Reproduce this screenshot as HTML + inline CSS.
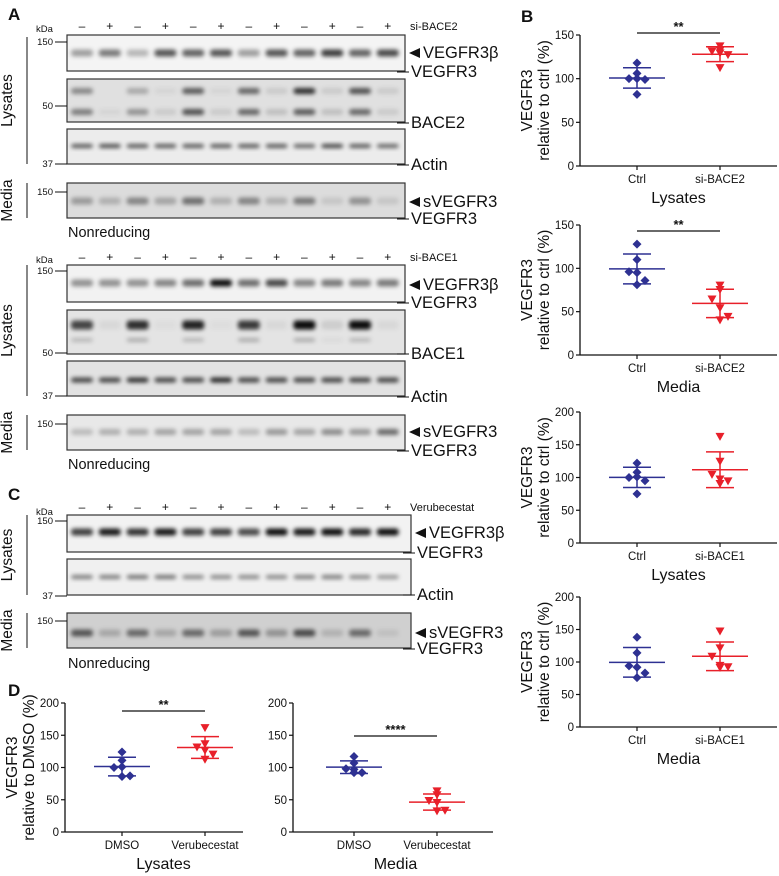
<!DOCTYPE html>
<html><head><meta charset="utf-8">
<style>
html,body{margin:0;padding:0;background:#fff;}
svg{display:block;font-family:"Liberation Sans",Arial,sans-serif;}
</style></head>
<body>
<svg id="fig" width="779" height="876" viewBox="0 0 779 876" xmlns="http://www.w3.org/2000/svg">
<defs>
<filter id="blur" x="-50%" y="-100%" width="200%" height="300%"><feGaussianBlur stdDeviation="2"/></filter>
</defs>
</svg>
<script>
// ---------- Chart data ----------
const bCategories1 = ["Ctrl","si-BACE2"];
const bLysCtrl = [118,106,100,100,99,82];
const bLysSi2 = [137,132,131,129,127,112];
const bMedCtrl = [128,110,96,95,86,81];
const bMedSi2 = [80,75,64,54,44,40];
const bCategories2 = ["Ctrl","si-BACE1"];
const bLys1Ctrl = [122,108,100,101,95,75];
const bLys1Si1 = [162,124,104,97,94,90];
const bMed1Ctrl = [138,114,94,92,83,76];
const bMed1Si1 = [147,121,108,94,92,91];
const dCategories = ["DMSO","Verubecestat"];
const dLysDMSO = [124,111,100,101,87,86];
const dLysVer = [161,136,131,126,120,112];
const dMedDMSO = [117,107,98,97,92,92];
const dMedVer = [63,57,48,45,33,32];
const ticks150 = [0,50,100,150];
const ticks200 = [0,50,100,150,200];

const svg = document.getElementById('fig');
const NS = 'http://www.w3.org/2000/svg';
function mk(tag, attrs, parent){
  const e = document.createElementNS(NS, tag);
  for (const k in attrs) e.setAttribute(k, attrs[k]);
  (parent||svg).appendChild(e);
  return e;
}
function txt(x,y,s,size,opts,parent){
  opts = opts||{};
  const t = mk('text',{x:x,y:y,'font-size':size,fill:'#111','text-anchor':opts.anchor||'start'},parent);
  if (opts.weight) t.setAttribute('font-weight',opts.weight);
  if (opts.rot) t.setAttribute('transform','rotate(-90 '+x+' '+y+')');
  t.textContent = s;
  return t;
}

// ---------- Scatter charts ----------
function mean(a){return a.reduce((s,v)=>s+v,0)/a.length;}
function sd(a){const m=mean(a);return Math.sqrt(a.reduce((s,v)=>s+(v-m)*(v-m),0)/(a.length-1));}

function scatterChart(cfg){
  const g = mk('g',{});
  
  
  const ymax = cfg.ticks[cfg.ticks.length-1];
  const yS = v => cfg.y0 - (v/ymax)*(cfg.y0-cfg.yTop);
  const xS = i => cfg.xc[i];
  const ya = mk('line',{x1:cfg.ax,y1:cfg.yTop,x2:cfg.ax,y2:cfg.y0,stroke:'#111','stroke-width':1.3},g);
  
  
  const xa = mk('line',{x1:cfg.ax,y1:cfg.y0,x2:cfg.axEnd,y2:cfg.y0,stroke:'#111','stroke-width':1.3},g);
  
  
  cfg.ticks.forEach(t=>{
    mk('line',{x1:cfg.ax-4,y1:yS(t),x2:cfg.ax,y2:yS(t),stroke:'#111','stroke-width':1.2},g);
    const tl = txt(cfg.ax-6,yS(t)+4,String(t),11.5,{anchor:'end'},g);
    
    
  });
  cfg.cats.forEach((c,i)=>{
    mk('line',{x1:xS(i),y1:cfg.y0,x2:xS(i),y2:cfg.y0+4,stroke:'#111','stroke-width':1.2},g);
    const cl = txt(xS(i),cfg.y0+17,c,11.5,{anchor:'middle'},g);
    
    
  });
  const gl = txt((cfg.xc[0]+cfg.xc[1])/2,cfg.y0+37,cfg.group,16,{anchor:'middle'},g);
  
  
  if (cfg.title2){
    const midY = (cfg.yTop+cfg.y0)/2;
    const t1 = txt(cfg.titleX,midY,'VEGFR3',15.5,{anchor:'middle',rot:true},g);
    
    
    const t2 = txt(cfg.titleX+17,midY,cfg.title2,15.5,{anchor:'middle',rot:true},g);
    
    
  }
  const cols = ['#2e3192','#e8202a'];
  [cfg.s0,cfg.s1].forEach((data,i)=>{
    const col = cols[i], cx = xS(i);
    const m = mean(data), s = sd(data);
    const eb = mk('g',{},g);
    
    
    mk('line',{x1:cx-28,y1:yS(m),x2:cx+28,y2:yS(m),stroke:col,'stroke-width':1.5},eb);
    mk('line',{x1:cx-14,y1:yS(m+s),x2:cx+14,y2:yS(m+s),stroke:col,'stroke-width':1.5},eb);
    mk('line',{x1:cx-14,y1:yS(m-s),x2:cx+14,y2:yS(m-s),stroke:col,'stroke-width':1.5},eb);
    mk('line',{x1:cx,y1:yS(m+s),x2:cx,y2:yS(m-s),stroke:col,'stroke-width':1.5},eb);
    const offs = [0,0,-8,0,8,0];
    data.forEach((v,j)=>{
      const px = cx + (offs[j]||0), py = yS(v);
      let p;
      if (i===0){
        p = mk('polygon',{points:`${px},${py-4.5} ${px+4.5},${py} ${px},${py+4.5} ${px-4.5},${py}`,fill:col},g);
      } else {
        p = mk('polygon',{points:`${px-4.5},${py-4} ${px+4.5},${py-4} ${px},${py+4}`,fill:col},g);
      }
      
      
    });
  });
  if (cfg.sig){
    const sy = cfg.sigY;
    const sl = mk('line',{x1:xS(0),y1:sy,x2:xS(1),y2:sy,stroke:'#111','stroke-width':1.3},g);
    
    
    const st = txt((xS(0)+xS(1))/2,sy-2,cfg.sig,13,{anchor:'middle',weight:'bold'},g);
    
    
  }
}

const bx = [637,720];
scatterChart({name:'chart-b-lysates-bace2',ax:580,axEnd:777,yTop:35,y0:166,ticks:ticks150,xc:bx,cats:bCategories1,group:'Lysates',titleX:532,title2:'relative to ctrl (%)',s0:bLysCtrl,s1:bLysSi2,sig:'**',sigY:33});
scatterChart({name:'chart-b-media-bace2',ax:580,axEnd:777,yTop:225,y0:355,ticks:ticks150,xc:bx,cats:bCategories1,group:'Media',titleX:532,title2:'relative to ctrl (%)',s0:bMedCtrl,s1:bMedSi2,sig:'**',sigY:231});
scatterChart({name:'chart-b-lysates-bace1',ax:580,axEnd:777,yTop:412,y0:543,ticks:ticks200,xc:bx,cats:bCategories2,group:'Lysates',titleX:532,title2:'relative to ctrl (%)',s0:bLys1Ctrl,s1:bLys1Si1});
scatterChart({name:'chart-b-media-bace1',ax:580,axEnd:777,yTop:597,y0:727,ticks:ticks200,xc:bx,cats:bCategories2,group:'Media',titleX:532,title2:'relative to ctrl (%)',s0:bMed1Ctrl,s1:bMed1Si1});
scatterChart({name:'chart-d-lysates',ax:65,axEnd:243,yTop:703,y0:832,ticks:ticks200,xc:[122,205],cats:dCategories,group:'Lysates',titleX:17,title2:'relative to DMSO (%)',s0:dLysDMSO,s1:dLysVer,sig:'**',sigY:711});
scatterChart({name:'chart-d-media',ax:293,axEnd:493,yTop:703,y0:832,ticks:ticks200,xc:[354,437],cats:dCategories,group:'Media',titleX:0,title2:'',s0:dMedDMSO,s1:dMedVer,sig:'****',sigY:736});

// ---------- Western blots ----------
const lanes = []; for (let i=0;i<12;i++) lanes.push(82+27.8*i);
function blotBox(name,x1,x2,y1,y2,bg,bands){
  const g = mk('g',{});
  
  
  mk('rect',{x:x1,y:y1,width:x2-x1,height:y2-y1,fill:bg},g);
  const bg2 = mk('g',{filter:'url(#blur)'},g);
  bands.forEach(b=>{
    lanes.forEach((lx,i)=>{
      const a = b.int[i]; if (a<=0) return;
      mk('rect',{x:lx-11,y:b.y-b.h/2,width:22,height:b.h,rx:3,fill:'#000','fill-opacity':a},bg2);
    });
  });
  mk('rect',{x:x1,y:y1,width:x2-x1,height:y2-y1,fill:'none',stroke:'#333','stroke-width':1.2},g);
}
function marker(x,y,label){
  txt(x-14,y+3,label,9.5,{anchor:'end'});
  mk('line',{x1:x-12,y1:y,x2:x,y2:y,stroke:'#111','stroke-width':1});
}
function rightLabel(x,y,s,arrow,line){
  if (line) mk('line',{x1:x-8,y1:y-5,x2:x+4,y2:y-5,stroke:'#111','stroke-width':1});
  if (arrow){
    mk('polygon',{points:`${x+4},${y-5} ${x+15},${y-10} ${x+15},${y}`,fill:'#111'});
    txt(x+18,y,s,16.5);
  } else txt(x+6,y,s,16.5);
}
function signs(y,label){
  lanes.forEach((lx,i)=>{ txt(lx,y,i%2?'+':'–',12,{anchor:'middle'}); });
  txt(410,y,label,11);
}
function sideLabel(x,y1,y2,s){
  mk('line',{x1:x+15,y1:y1,x2:x+15,y2:y2,stroke:'#111','stroke-width':1});
  txt(x,(y1+y2)/2,s,15.5,{anchor:'middle',rot:true});
}

// Panel A top
txt(8,20,'A',17,{weight:'bold'});
txt(36,32,'kDa',9.5); signs(30,'si-BACE2');
blotBox('blot-a1-vegfr3',67,405,35,71,'#f4f4f4',[{y:53,h:7,int:[.35,.5,.25,.65,.6,.65,.35,.65,.6,.75,.6,.7]}]);
blotBox('blot-a1-bace2',67,405,79,122,'#e0e0e0',[{y:91,h:6,int:[.4,0,.25,.05,.6,.05,.55,.1,.8,.1,.65,.1]},{y:112,h:6,int:[.45,.05,.35,.1,.65,.1,.55,.15,.6,.15,.55,.1]}]);
blotBox('blot-a1-actin',67,405,129,164,'#ececec',[{y:146,h:4,int:[.65,.7,.65,.65,.65,.65,.65,.65,.6,.75,.65,.6]}]);
blotBox('blot-a1-media',67,405,183,218,'#dcdcdc',[{y:201,h:7,int:[.3,.2,.4,.25,.5,.2,.4,.2,.45,.1,.35,.1]}]);
marker(67,42,'150'); marker(67,106,'50'); marker(67,164,'37'); marker(67,192,'150');
rightLabel(405,58,'VEGFR3β',true,false); rightLabel(405,77,'VEGFR3',false,true);
rightLabel(405,128,'BACE2',false,true); rightLabel(405,170,'Actin',false,true);
rightLabel(405,207,'sVEGFR3',true,false); rightLabel(405,224,'VEGFR3',false,true);
sideLabel(12,37,164,'Lysates'); sideLabel(12,183,218,'Media');
txt(68,237,'Nonreducing',14.5);

// Panel A bottom
txt(36,263,'kDa',9.5); signs(261,'si-BACE1');
blotBox('blot-a2-vegfr3',67,405,265,302,'#f2f2f2',[{y:283,h:7,int:[.4,.4,.4,.45,.55,.95,.55,.7,.45,.5,.45,.5]}]);
blotBox('blot-a2-bace1',67,405,310,354,'#e4e4e4',[{y:325,h:9,int:[.7,.05,.8,.03,.85,.03,.75,.05,.95,.1,.95,.05]},{y:340,h:4,int:[.2,0,.25,0,.2,0,.25,0,.25,.05,.2,0]}]);
blotBox('blot-a2-actin',67,405,361,396,'#e2e2e2',[{y:380,h:5,int:[.7,.7,.8,.7,.7,.85,.7,.7,.7,.7,.7,.7]}]);
blotBox('blot-a2-media',67,405,415,450,'#e8e8e8',[{y:432,h:6,int:[.2,.25,.25,.3,.3,.3,.2,.35,.3,.4,.35,.55]}]);
marker(67,271,'150'); marker(67,353,'50'); marker(67,396,'37'); marker(67,424,'150');
rightLabel(405,290,'VEGFR3β',true,false); rightLabel(405,308,'VEGFR3',false,true);
rightLabel(405,359,'BACE1',false,true); rightLabel(405,402,'Actin',false,true);
rightLabel(405,437,'sVEGFR3',true,false); rightLabel(405,456,'VEGFR3',false,true);
sideLabel(12,265,396,'Lysates'); sideLabel(12,415,450,'Media');
txt(68,469,'Nonreducing',14.5);

// Panel C
txt(8,500,'C',17,{weight:'bold'});
txt(36,515,'kDa',9.5); signs(511,'Verubecestat');
blotBox('blot-c-vegfr3',67,411,515,552,'#f2f2f2',[{y:532,h:7,int:[.75,.9,.8,.9,.75,.75,.7,.95,.9,.95,.85,.95]}]);
blotBox('blot-c-actin',67,411,559,595,'#f0f0f0',[{y:577,h:4,int:[.5,.5,.55,.55,.45,.45,.45,.45,.5,.5,.45,.4]}]);
blotBox('blot-c-media',67,411,613,648,'#d0d0d0',[{y:633,h:7,int:[.6,.2,.5,.2,.5,.25,.6,.3,.65,.15,.5,.08]}]);
marker(67,521,'150'); marker(67,596,'37'); marker(67,621,'150');
rightLabel(411,538,'VEGFR3β',true,false); rightLabel(411,558,'VEGFR3',false,true);
rightLabel(411,600,'Actin',false,true);
rightLabel(411,638,'sVEGFR3',true,false); rightLabel(411,654,'VEGFR3',false,true);
sideLabel(12,515,595,'Lysates'); sideLabel(12,613,648,'Media');
txt(68,668,'Nonreducing',14.5);

// Panel B, D letters
txt(521,22,'B',17,{weight:'bold'});
txt(8,696,'D',17,{weight:'bold'});
</script>
</body></html>
